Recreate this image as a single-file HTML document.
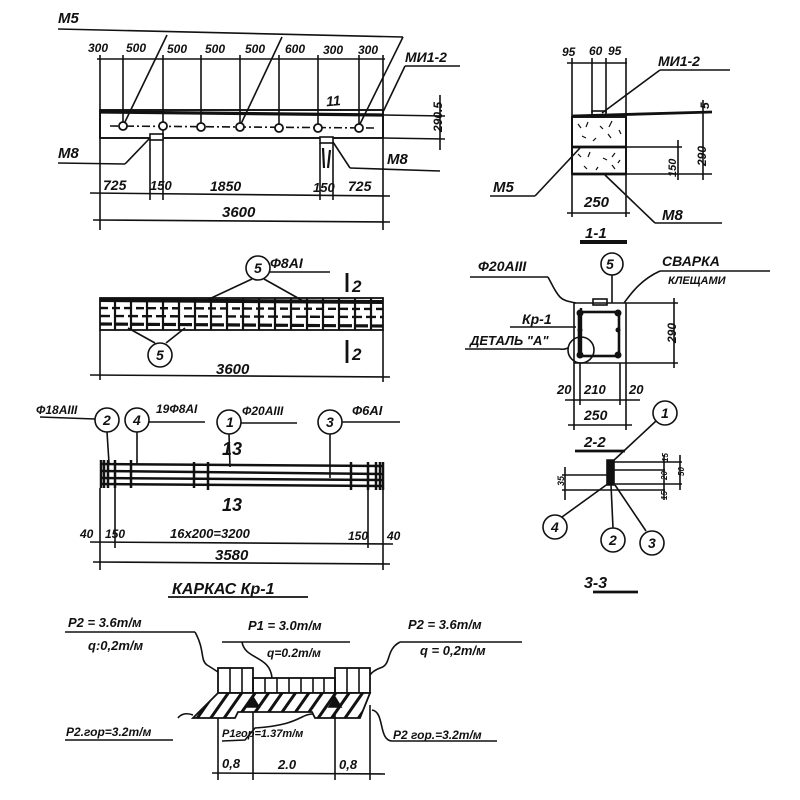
<!DOCTYPE html>
<html><head><meta charset="utf-8"><style>
html,body{margin:0;padding:0;background:#fff;width:800px;height:800px;overflow:hidden}
svg text{font-family:"Liberation Sans",sans-serif;font-style:italic;font-weight:bold;fill:#111}
</style></head><body>
<svg width="800" height="800" viewBox="0 0 800 800" xmlns="http://www.w3.org/2000/svg">
<defs>
<pattern id="h" width="11" height="11" patternUnits="userSpaceOnUse" patternTransform="rotate(35)">
<rect width="11" height="11" fill="#fff"/><rect width="3" height="11" fill="#111"/></pattern>
</defs>
<g stroke="#111" stroke-width="1.6" fill="none">
<!-- ===== TOP ELEVATION ===== -->
<line x1="58" y1="29" x2="403" y2="37"/>
<line x1="167" y1="35" x2="123" y2="126"/>
<line x1="282" y1="37" x2="240" y2="126"/>
<line x1="403" y1="37" x2="359" y2="126"/>
<line x1="97" y1="59" x2="385" y2="59"/>
<g>
<line x1="100" y1="55" x2="100" y2="230"/><line x1="123" y1="55" x2="123" y2="126"/>
<line x1="163" y1="55" x2="163" y2="200"/><line x1="201" y1="55" x2="201" y2="126"/>
<line x1="240" y1="55" x2="240" y2="126"/><line x1="279" y1="55" x2="279" y2="126"/>
<line x1="318" y1="55" x2="318" y2="126"/><line x1="359" y1="55" x2="359" y2="126"/>
<line x1="383" y1="55" x2="383" y2="230"/>
</g>
<rect x="100" y="110" width="283" height="28" stroke-width="1.9"/>
<line x1="100" y1="112" x2="383" y2="115" stroke-width="3.2"/>
<line x1="110" y1="126" x2="375" y2="128" stroke-dasharray="8 3 2 3"/>
<g fill="#fff" stroke-width="1.8">
<circle cx="123" cy="126" r="4"/><circle cx="163" cy="126" r="4"/><circle cx="201" cy="127" r="4"/>
<circle cx="240" cy="127" r="4"/><circle cx="279" cy="128" r="4"/><circle cx="318" cy="128" r="4"/><circle cx="359" cy="128" r="4"/>
</g>
<rect x="150" y="134" width="13" height="6" fill="#fff"/>
<rect x="320" y="137" width="13" height="6" fill="#fff"/>
<line x1="150" y1="140" x2="150" y2="200"/><line x1="320" y1="143" x2="320" y2="200"/><line x1="333" y1="143" x2="333" y2="200"/>
<line x1="323" y1="148" x2="324" y2="168" stroke-width="2.2"/><line x1="330" y1="150" x2="328" y2="168" stroke-width="2.2"/>
<line x1="333" y1="142" x2="350" y2="168"/><line x1="350" y1="168" x2="440" y2="171"/>
<line x1="58" y1="163" x2="125" y2="164"/><line x1="125" y1="164" x2="150" y2="138"/>
<line x1="405" y1="66" x2="460" y2="66"/><line x1="405" y1="66" x2="383" y2="112"/>
<line x1="383" y1="115" x2="445" y2="116"/><line x1="383" y1="138" x2="445" y2="139"/>
<line x1="440" y1="95" x2="440" y2="150"/>
<line x1="90" y1="193" x2="390" y2="196"/>
<line x1="93" y1="220" x2="390" y2="222"/>
<!-- ===== 1-1 ===== -->
<line x1="567" y1="63" x2="627" y2="63"/>
<line x1="572" y1="58" x2="572" y2="217"/><line x1="592" y1="58" x2="592" y2="113"/>
<line x1="606" y1="58" x2="606" y2="113"/><line x1="626" y1="58" x2="626" y2="217"/>
<rect x="572" y="117" width="54" height="57" stroke-width="1.9"/>
<g stroke-width="1.2">
<path d="M578 124 l3 4 M588 122 l-2 5 M600 126 l3 3 M612 121 l-3 6 M619 130 l2 4 M582 136 l4 2 M596 138 l-3 3 M608 134 l3 4 M578 154 l3 3 M590 152 l-2 5 M603 158 l4 2 M615 153 l-3 4 M584 166 l3 3 M598 167 l-2 3 M612 165 l3 4 M620 160 l-2 3"/>
</g>
<line x1="572" y1="116" x2="712" y2="112" stroke-width="2.8"/>
<rect x="592" y="111" width="14" height="6"/>
<line x1="572" y1="147" x2="626" y2="147" stroke-width="2.8"/>
<line x1="572" y1="174" x2="626" y2="174" stroke-width="2.8"/>
<line x1="626" y1="147" x2="682" y2="147"/><line x1="626" y1="174" x2="712" y2="174"/>
<line x1="678" y1="140" x2="678" y2="180"/><line x1="703" y1="100" x2="703" y2="180"/>
<line x1="660" y1="70" x2="730" y2="70"/><line x1="660" y1="70" x2="602" y2="113"/>
<line x1="490" y1="196" x2="535" y2="196"/><line x1="535" y1="196" x2="580" y2="148"/>
<line x1="605" y1="175" x2="655" y2="223"/><line x1="655" y1="223" x2="722" y2="223"/>
<line x1="567" y1="213" x2="630" y2="213"/>
<line x1="580" y1="242" x2="627" y2="242" stroke-width="4"/>
<!-- ===== plan 12 ===== -->
<rect x="100" y="298" width="283" height="32" stroke-width="1.8"/>
<line x1="100" y1="300" x2="383" y2="302" stroke-width="4"/>
<line x1="100" y1="308" x2="383" y2="309" stroke-width="2.4" stroke-dasharray="8 4"/>
<line x1="100" y1="316" x2="383" y2="317" stroke-width="2.4" stroke-dasharray="10 4"/>
<line x1="100" y1="324" x2="383" y2="326" stroke-width="3.2" stroke-dasharray="12 4"/>
<g stroke-width="2.2">
<line x1="115" y1="298" x2="115" y2="330"/><line x1="131" y1="298" x2="131" y2="330"/><line x1="147" y1="298" x2="147" y2="330"/>
<line x1="163" y1="298" x2="163" y2="330"/><line x1="179" y1="298" x2="179" y2="330"/><line x1="195" y1="298" x2="195" y2="330"/>
<line x1="211" y1="298" x2="211" y2="330"/><line x1="227" y1="298" x2="227" y2="330"/><line x1="243" y1="298" x2="243" y2="330"/>
<line x1="259" y1="298" x2="259" y2="330"/><line x1="275" y1="298" x2="275" y2="330"/><line x1="291" y1="298" x2="291" y2="330"/>
<line x1="307" y1="298" x2="307" y2="330"/><line x1="323" y1="298" x2="323" y2="330"/><line x1="339" y1="298" x2="339" y2="330"/>
<line x1="355" y1="298" x2="355" y2="330"/><line x1="371" y1="298" x2="371" y2="330"/>
</g>
<line x1="100" y1="330" x2="100" y2="380"/><line x1="383" y1="330" x2="383" y2="382"/>
<circle cx="258" cy="268" r="12"/><line x1="270" y1="272" x2="330" y2="272"/>
<line x1="252" y1="279" x2="207" y2="300"/><line x1="264" y1="279" x2="305" y2="302"/>
<circle cx="160" cy="355" r="12"/>
<line x1="155" y1="343" x2="128" y2="328"/><line x1="166" y1="343" x2="185" y2="328"/>
<line x1="347" y1="273" x2="347" y2="292" stroke-width="2.8"/><line x1="347" y1="340" x2="347" y2="363" stroke-width="2.8"/>
<line x1="90" y1="375" x2="390" y2="377"/>
<!-- ===== Kp-1 ===== -->
<circle cx="107" cy="420" r="12"/><circle cx="137" cy="420" r="12"/>
<circle cx="229" cy="422" r="12"/><circle cx="330" cy="422" r="12"/>
<line x1="40" y1="417" x2="95" y2="419"/><line x1="149" y1="422" x2="205" y2="422"/>
<line x1="241" y1="423" x2="297" y2="423"/><line x1="342" y1="422" x2="400" y2="422"/>
<line x1="107" y1="432" x2="109" y2="463"/><line x1="137" y1="432" x2="137" y2="465"/>
<line x1="229" y1="434" x2="230" y2="467"/><line x1="330" y1="434" x2="330" y2="478"/>
<g stroke-width="2.5">
<line x1="100" y1="464" x2="383" y2="466"/><line x1="100" y1="471" x2="383" y2="474"/>
<line x1="100" y1="478" x2="383" y2="480"/><line x1="100" y1="484" x2="383" y2="486"/>
<line x1="101" y1="460" x2="101" y2="488"/><line x1="104" y1="460" x2="104" y2="488"/>
<line x1="108" y1="460" x2="108" y2="488"/><line x1="115" y1="460" x2="115" y2="488"/>
<line x1="131" y1="460" x2="131" y2="488"/><line x1="194" y1="462" x2="194" y2="488"/>
<line x1="208" y1="462" x2="208" y2="490"/><line x1="351" y1="462" x2="351" y2="490"/>
<line x1="368" y1="462" x2="368" y2="490"/><line x1="376" y1="462" x2="376" y2="490"/>
<line x1="380" y1="462" x2="380" y2="490"/><line x1="383" y1="462" x2="383" y2="490"/>
</g>
<line x1="100" y1="488" x2="100" y2="570"/><line x1="115" y1="488" x2="115" y2="548"/>
<line x1="368" y1="490" x2="368" y2="548"/><line x1="383" y1="490" x2="383" y2="570"/>
<line x1="90" y1="542" x2="393" y2="544"/>
<line x1="93" y1="562" x2="390" y2="564"/>
<line x1="168" y1="597" x2="308" y2="597" stroke-width="1.7"/>
<!-- ===== 2-2 ===== -->
<circle cx="612" cy="264" r="11"/><line x1="612" y1="275" x2="612" y2="303"/>
<line x1="470" y1="277" x2="548" y2="277"/><path d="M548 277 C560 300 560 300 576 303"/>
<line x1="660" y1="271" x2="770" y2="271"/><path d="M660 271 C640 280 630 295 624 303"/>
<line x1="574" y1="303" x2="626" y2="303"/><line x1="574" y1="303" x2="574" y2="430"/>
<line x1="626" y1="303" x2="626" y2="430"/><line x1="574" y1="363" x2="626" y2="363"/>
<rect x="593" y="299" width="14" height="6"/>
<rect x="579" y="312" width="40" height="44" stroke-width="2.6"/>
<line x1="581" y1="308" x2="581" y2="358" stroke-width="2.4"/>
<g fill="#111" stroke="none">
<circle cx="580" cy="313" r="3.5"/><circle cx="618" cy="313" r="3.5"/><circle cx="580" cy="355" r="3.5"/><circle cx="618" cy="355" r="3.5"/>
<circle cx="580" cy="330" r="2.5"/><circle cx="618" cy="330" r="2.5"/></g>
<line x1="510" y1="327" x2="576" y2="327"/>
<line x1="465" y1="349" x2="560" y2="349"/><path d="M560 349 C565 350 567 348 568 348"/>
<circle cx="581" cy="350" r="13"/>
<line x1="626" y1="303" x2="678" y2="303"/><line x1="626" y1="363" x2="678" y2="363"/>
<line x1="674" y1="298" x2="674" y2="368"/>
<line x1="580" y1="363" x2="580" y2="405"/><line x1="620" y1="363" x2="620" y2="405"/>
<line x1="565" y1="400" x2="640" y2="400"/>
<line x1="568" y1="425" x2="632" y2="425"/>
<line x1="575" y1="451" x2="625" y2="451" stroke-width="2.8"/>
<!-- ===== 3-3 ===== -->
<path d="M607 460 L614 460 L614 485 L607 485 Z" fill="#111"/>
<line x1="614" y1="462" x2="682" y2="462"/><line x1="614" y1="470" x2="665" y2="470"/>
<line x1="614" y1="484" x2="682" y2="484"/><line x1="562" y1="475" x2="607" y2="475"/>
<line x1="562" y1="490" x2="665" y2="490"/>
<line x1="565" y1="467" x2="565" y2="500"/><line x1="664" y1="455" x2="664" y2="500"/><line x1="680" y1="455" x2="680" y2="490"/>
<circle cx="665" cy="413" r="12"/><line x1="656" y1="421" x2="612" y2="462"/>
<circle cx="555" cy="527" r="12"/><line x1="562" y1="517" x2="609" y2="483"/>
<circle cx="613" cy="540" r="12"/><line x1="613" y1="528" x2="611" y2="485"/>
<circle cx="652" cy="543" r="12"/><line x1="646" y1="531" x2="615" y2="485"/>
<line x1="593" y1="592" x2="638" y2="592" stroke-width="2.8"/>
<!-- ===== LOAD DIAGRAM ===== -->
<line x1="65" y1="632" x2="195" y2="632"/><path d="M195 632 C205 650 200 660 207 665 C212 668 215 670 218 672"/>
<line x1="222" y1="642" x2="350" y2="642"/><path d="M242 642 C245 660 270 655 272 678"/>
<line x1="400" y1="642" x2="522" y2="642"/><path d="M400 642 C385 650 392 665 380 668 C375 670 372 672 370 675"/>
<rect x="218" y="668" width="35" height="25" stroke-width="1.8"/>
<line x1="230" y1="668" x2="230" y2="693"/><line x1="242" y1="668" x2="242" y2="693"/>
<rect x="253" y="678" width="82" height="15" stroke-width="1.8"/>
<line x1="265" y1="678" x2="265" y2="693"/><line x1="277" y1="678" x2="277" y2="693"/><line x1="289" y1="678" x2="289" y2="693"/>
<line x1="301" y1="678" x2="301" y2="693"/><line x1="313" y1="678" x2="313" y2="693"/><line x1="324" y1="678" x2="324" y2="693"/>
<rect x="335" y="668" width="35" height="25" stroke-width="1.8"/>
<line x1="347" y1="668" x2="347" y2="693"/><line x1="359" y1="668" x2="359" y2="693"/>
<path d="M218 693 L370 693 L360 718 L315 718 L312 712 L238 712 L235 718 L193 718 Z" fill="url(#h)" stroke-width="1.8"/>
<path d="M247 707 L253 697 L259 707 Z" fill="#111"/><path d="M329 707 L335 697 L341 707 Z" fill="#111"/>
<path d="M193 715 C185 712 180 715 178 718"/>
<line x1="65" y1="740" x2="173" y2="740"/>
<path d="M313 714 C300 714 300 725 255 728 L245 740 L222 741"/>
<path d="M372 710 C385 712 378 740 392 741 L497 741"/>
<line x1="218" y1="718" x2="218" y2="780"/><line x1="253" y1="712" x2="253" y2="780"/>
<line x1="335" y1="712" x2="335" y2="780"/><line x1="370" y1="705" x2="370" y2="780"/>
<line x1="212" y1="773" x2="385" y2="774"/>
</g>
<!-- TEXT -->
<g font-size="13">
<text x="58" y="23" font-size="15">M5</text>
<text x="88" y="52" font-size="12">300</text><text x="126" y="52" font-size="12">500</text>
<text x="167" y="53" font-size="12">500</text><text x="205" y="53" font-size="12">500</text>
<text x="245" y="53" font-size="12">500</text><text x="285" y="53" font-size="12">600</text>
<text x="323" y="54" font-size="12">300</text><text x="358" y="54" font-size="12">300</text>
<text x="405" y="62" font-size="14">МИ1-2</text>
<text x="326" y="106" font-size="14" transform="rotate(-5 330 100)">11</text>
<text x="58" y="158" font-size="15">M8</text>
<text x="387" y="164" font-size="15">M8</text>
<text x="423" y="137" font-size="12" transform="rotate(-90 430 125)">290.5</text>
<text x="103" y="190" font-size="14">725</text><text x="150" y="190" font-size="13">150</text>
<text x="210" y="191" font-size="14">1850</text><text x="313" y="192" font-size="13">150</text><text x="348" y="191" font-size="14">725</text>
<text x="222" y="217" font-size="15">3600</text>
<text x="562" y="56" font-size="12">95</text><text x="589" y="55" font-size="12">60</text><text x="608" y="55" font-size="12">95</text>
<text x="658" y="66" font-size="14">МИ1-2</text>
<text x="700" y="108" font-size="12" transform="rotate(-90 705 104)">5</text>
<text x="680" y="160" font-size="12" transform="rotate(-90 696 150)">290</text>
<text x="655" y="168" font-size="11" transform="rotate(-90 670 162)">150</text>
<text x="493" y="192" font-size="15">M5</text>
<text x="584" y="207" font-size="15">250</text>
<text x="662" y="220" font-size="15">M8</text>
<text x="585" y="238" font-size="15">1-1</text>
<text x="254" y="273" font-size="14" font-style="normal">5</text>
<text x="270" y="268" font-size="14">Ф8АI</text>
<text x="352" y="292" font-size="17" font-style="normal">2</text>
<text x="352" y="360" font-size="17" font-style="normal">2</text>
<text x="156" y="360" font-size="14" font-style="normal">5</text>
<text x="216" y="374" font-size="15">3600</text>
<text x="36" y="414" font-size="12">Ф18АIII</text>
<text x="103" y="425" font-size="14" font-style="normal">2</text>
<text x="133" y="425" font-size="14">4</text>
<text x="156" y="413" font-size="12">19Ф8АI</text>
<text x="226" y="427" font-size="14">1</text>
<text x="242" y="415" font-size="12">Ф20АIII</text>
<text x="326" y="427" font-size="14" font-style="normal">3</text>
<text x="352" y="415" font-size="13">Ф6АI</text>
<text x="222" y="455" font-size="18" font-style="normal">13</text>
<text x="222" y="511" font-size="18" font-style="normal">13</text>
<text x="80" y="538" font-size="12">40</text><text x="105" y="538" font-size="12">150</text>
<text x="170" y="538" font-size="13">16x200=3200</text>
<text x="348" y="540" font-size="12">150</text><text x="387" y="540" font-size="12">40</text>
<text x="215" y="560" font-size="15">3580</text>
<text x="172" y="594" font-size="16">КАРКАС Кр-1</text>
<text x="606" y="269" font-size="14" font-style="normal">5</text>
<text x="478" y="271" font-size="14">Ф20АIII</text>
<text x="662" y="266" font-size="14">СВАРКА</text>
<text x="668" y="284" font-size="11">КЛЕЩАМИ</text>
<text x="522" y="324" font-size="14">Кр-1</text>
<text x="470" y="345" font-size="13">ДЕТАЛЬ "А"</text>
<text x="658" y="345" font-size="12" transform="rotate(-90 666 335)">290</text>
<text x="557" y="394" font-size="13">20</text><text x="584" y="394" font-size="13">210</text><text x="629" y="394" font-size="13">20</text>
<text x="584" y="420" font-size="14">250</text>
<text x="584" y="447" font-size="15">2-2</text>
<text x="661" y="418" font-size="14">1</text>
<text x="551" y="532" font-size="14">4</text>
<text x="609" y="545" font-size="14" font-style="normal">2</text>
<text x="648" y="548" font-size="14" font-style="normal">3</text>
<text x="552" y="490" font-size="9" transform="rotate(-90 556 482)">35</text>
<text x="656" y="466" font-size="8" transform="rotate(-90 660 458)">15</text>
<text x="655" y="484" font-size="8" transform="rotate(-90 659 476)">20</text>
<text x="672" y="480" font-size="8" transform="rotate(-90 676 472)">50</text>
<text x="655" y="504" font-size="8" transform="rotate(-90 659 496)">15</text>
<text x="584" y="588" font-size="16">3-3</text>
<text x="68" y="627" font-size="13">Р2 = 3.6т/м</text>
<text x="88" y="650" font-size="13">q:0,2т/м</text>
<text x="248" y="630" font-size="13">Р1 = 3.0т/м</text>
<text x="267" y="657" font-size="12">q=0.2т/м</text>
<text x="408" y="629" font-size="13">Р2 = 3.6т/м</text>
<text x="420" y="655" font-size="13">q = 0,2т/м</text>
<text x="66" y="736" font-size="12">Р2.гор=3.2т/м</text>
<text x="222" y="737" font-size="11">Р1гор=1.37т/м</text>
<text x="393" y="739" font-size="12">Р2 гор.=3.2т/м</text>
<text x="222" y="768" font-size="13">0,8</text><text x="278" y="769" font-size="13">2.0</text><text x="339" y="769" font-size="13">0,8</text>
</g>
</svg>
</body></html>
